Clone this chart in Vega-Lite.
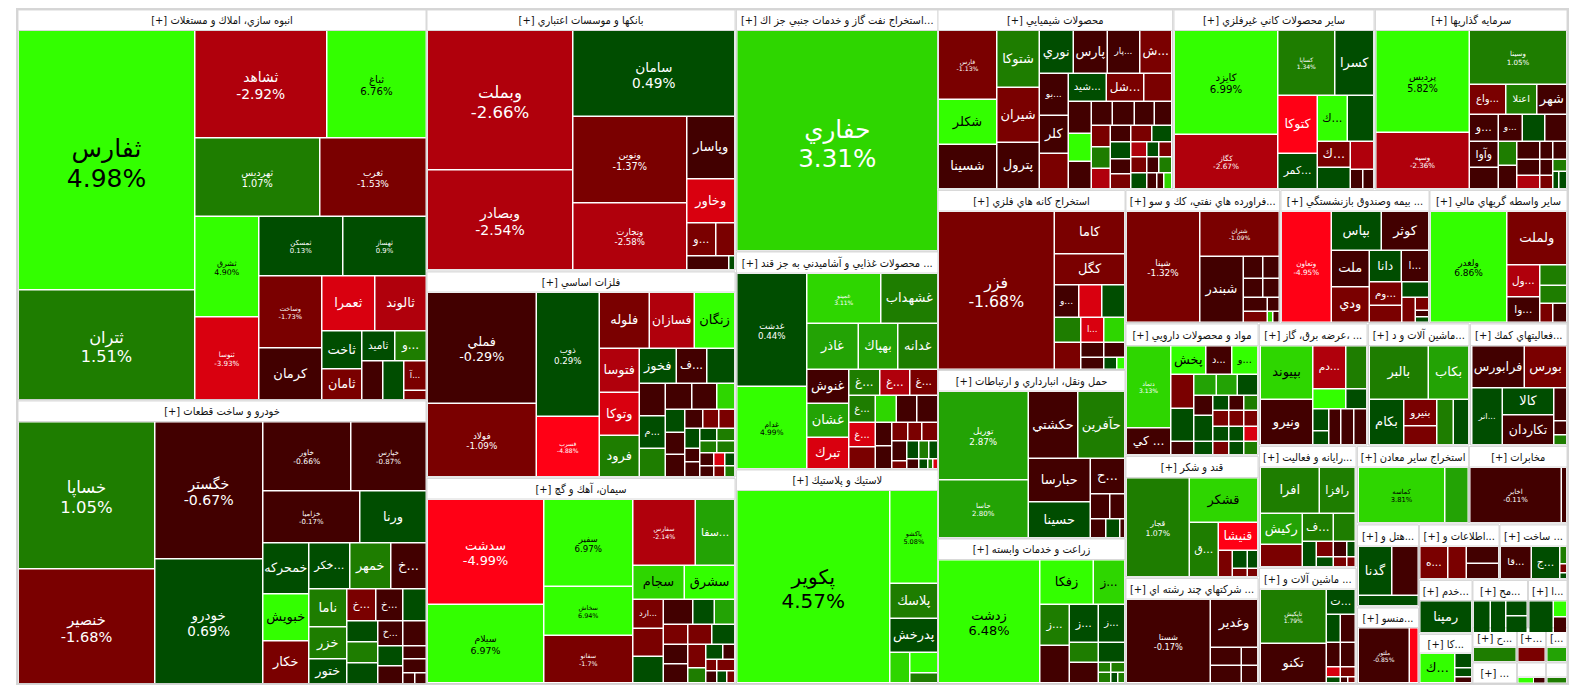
{
"$schema": "https://vega.github.io/schema/vega-lite/v6.json",
"width": 1584, "height": 698, "padding": 0, "autosize": {"type": "none"},
"background": "#ffffff",
"config": {"view": {"stroke": null}},
"datasets": {
"frame": [{"x0": 17, "x1": 1568, "y0": 9, "y1": 684}],
"groups": [
{"t":"[+] انبوه سازي، املاك و مستغلات","x0":18,"x1":426,"y0":10,"y1":30.5,"yb":399.5},
{"t":"[+] خودرو و ساخت قطعات","x0":18,"x1":426,"y0":401,"y1":421.5,"yb":683.5},
{"t":"[+] بانكها و موسسات اعتباري","x0":427,"x1":735,"y0":10,"y1":30.5,"yb":270},
{"t":"[+] فلزات اساسي","x0":427,"x1":735,"y0":272,"y1":292,"yb":477},
{"t":"[+] سيمان، آهك و گچ","x0":427,"x1":735,"y0":478.5,"y1":499,"yb":683.5},
{"t":"[+] استخراج نفت گاز و خدمات جنبي جز اكت...","x0":736.5,"x1":938,"y0":10,"y1":30.5,"yb":251},
{"t":"[+] محصولات غذايي و آشاميدني به جز قند ...","x0":736.5,"x1":938,"y0":252,"y1":273,"yb":469},
{"t":"[+] لاستيك و پلاستيك","x0":736.5,"x1":938,"y0":470,"y1":490.5,"yb":683.5},
{"t":"[+] محصولات شيميايي","x0":938,"x1":1172.5,"y0":10,"y1":30.5,"yb":189},
{"t":"[+] ساير محصولات كاني غيرفلزي","x0":1174,"x1":1374,"y0":10,"y1":30.5,"yb":189},
{"t":"[+] سرمايه گذاريها","x0":1375.5,"x1":1567,"y0":10,"y1":30.5,"yb":189},
{"t":"[+] استخراج كانه هاي فلزي","x0":938,"x1":1125,"y0":190.5,"y1":211,"yb":369.5},
{"t":"[+] فراورده هاي نفتي، كك و سو...","x0":1126,"x1":1279.5,"y0":190.5,"y1":211,"yb":322.5},
{"t":"[+] بيمه وصندوق بازنشستگي ...","x0":1281,"x1":1429,"y0":190.5,"y1":211,"yb":322.5},
{"t":"[+] ساير واسطه گريهاي مالي","x0":1430,"x1":1567,"y0":190.5,"y1":211,"yb":322.5},
{"t":"[+] حمل ونقل، انبارداري و ارتباطات","x0":938,"x1":1125,"y0":370.5,"y1":391,"yb":538},
{"t":"[+] زراعت و خدمات وابسته","x0":938,"x1":1125,"y0":539,"y1":559.5,"yb":683.5},
{"t":"[+] مواد و محصولات دارويي","x0":1126,"x1":1258,"y0":324,"y1":345.5,"yb":455},
{"t":"[+] قند و شكر","x0":1126,"x1":1258,"y0":456.5,"y1":477.5,"yb":577},
{"t":"[+] شركتهاي چند رشته اي ...","x0":1126,"x1":1258,"y0":578.5,"y1":599,"yb":683.5},
{"t":"[+] عرضه برق، گاز، ...","x0":1259.5,"x1":1367,"y0":324,"y1":345.5,"yb":445},
{"t":"[+] رايانه و فعاليت...","x0":1259.5,"x1":1356,"y0":446.5,"y1":467,"yb":567},
{"t":"[+] ماشين آلات و ...","x0":1259.5,"x1":1356,"y0":568.5,"y1":589,"yb":683.5},
{"t":"[+] ماشين آلات و د...","x0":1368.5,"x1":1469,"y0":324,"y1":345.5,"yb":445},
{"t":"[+] فعاليتهاي كمك...","x0":1470.5,"x1":1567,"y0":324,"y1":345.5,"yb":445},
{"t":"[+] استخراج ساير معادن","x0":1357.5,"x1":1468.5,"y0":446.5,"y1":467,"yb":523},
{"t":"[+] مخابرات","x0":1469.5,"x1":1567,"y0":446.5,"y1":467,"yb":523},
{"t":"[+] هتل و...","x0":1357.5,"x1":1418.5,"y0":525,"y1":546,"yb":606},
{"t":"[+] اطلاعات و...","x0":1419.5,"x1":1499,"y0":525,"y1":546,"yb":579},
{"t":"[+] ساخت ...","x0":1500,"x1":1567,"y0":525,"y1":546,"yb":579},
{"t":"[+] منسو...","x0":1357.5,"x1":1418.5,"y0":608,"y1":627.5,"yb":683.5},
{"t":"[+] خدم...","x0":1419.5,"x1":1472,"y0":580.5,"y1":600.5,"yb":633},
{"t":"[+] مح...","x0":1473,"x1":1527.5,"y0":580.5,"y1":600.5,"yb":633},
{"t":"[+] ا...","x0":1528.5,"x1":1567,"y0":580.5,"y1":600.5,"yb":633},
{"t":"[+] كا...","x0":1419.5,"x1":1472,"y0":634.5,"y1":653,"yb":683.5},
{"t":"[+] ح...","x0":1473,"x1":1516.5,"y0":628,"y1":647,"yb":662},
{"t":"[+]...","x0":1517.5,"x1":1545.5,"y0":628,"y1":647,"yb":662},
{"t":"[...","x0":1546.5,"x1":1567,"y0":628,"y1":647,"yb":662},
{"t":"[+] ...","x0":1473,"x1":1516.5,"y0":663,"y1":683,"yb":683.5},
{"t":"","x0":1517.5,"x1":1545.5,"y0":663,"y1":677,"yb":683.5},
{"t":"","x0":1546.5,"x1":1567,"y0":663,"y1":677,"yb":683.5}
],
"tiles": [
{"n":"ثفارس","p":"4.98%","c":4.98,"x0":19,"x1":194,"y0":31,"y1":289},
{"n":"ثتران","p":"1.51%","c":1.51,"x0":19,"x1":194,"y0":290.5,"y1":399},
{"n":"ثشاهد","p":"-2.92%","c":-2.92,"x0":195.5,"x1":326,"y0":31,"y1":137},
{"n":"ثباغ","p":"6.76%","c":6.76,"x0":327.5,"x1":425.5,"y0":31,"y1":137},
{"n":"ثهرديس","p":"1.07%","c":1.07,"x0":195.5,"x1":319,"y0":138.5,"y1":215.5},
{"n":"ثغرب","p":"-1.53%","c":-1.53,"x0":320.5,"x1":425.5,"y0":138.5,"y1":215.5},
{"n":"ثشرق","p":"4.90%","c":4.90,"x0":195.5,"x1":258,"y0":217,"y1":316},
{"n":"ثمسكن","p":"0.13%","c":0.13,"x0":259.5,"x1":342,"y0":217,"y1":275},
{"n":"ثهساز","p":"0.9%","c":0.9,"x0":343.5,"x1":425.5,"y0":217,"y1":275},
{"n":"ثنوسا","p":"-3.93%","c":-3.93,"x0":195.5,"x1":258,"y0":317.5,"y1":399},
{"n":"وساخت","p":"-1.73%","c":-1.73,"x0":259.5,"x1":321,"y0":276.5,"y1":347},
{"n":"كرمان","c":-0.6,"x0":259.5,"x1":321,"y0":348.5,"y1":399},
{"n":"ثعمرا","c":-3.4,"x0":322.5,"x1":374,"y0":276.5,"y1":330},
{"n":"ثالوند","c":-2.4,"x0":375.5,"x1":425.5,"y0":276.5,"y1":330},
{"n":"ثاخت","c":0.6,"x0":322.5,"x1":361,"y0":331.5,"y1":368},
{"n":"ثاميد","c":0.5,"x0":362.5,"x1":394,"y0":331.5,"y1":360},
{"n":"و...","c":1.3,"x0":395.5,"x1":425.5,"y0":331.5,"y1":360},
{"n":"ثامان","c":-1.2,"x0":322.5,"x1":361,"y0":369.5,"y1":399},
{"c":-0.7,"x0":362.5,"x1":382,"y0":361.5,"y1":399},
{"c":0.4,"x0":383.5,"x1":403,"y0":361.5,"y1":399},
{"n":"آ...","c":-1.4,"x0":404.5,"x1":425.5,"y0":361.5,"y1":389.5},
{"c":-1.2,"x0":404.5,"x1":425.5,"y0":391,"y1":399},
{"n":"خساپا","p":"1.05%","c":1.05,"x0":19,"x1":154,"y0":422.5,"y1":568},
{"n":"خنصير","p":"-1.68%","c":-1.68,"x0":19,"x1":154,"y0":569.5,"y1":683},
{"n":"خگستر","p":"-0.67%","c":-0.67,"x0":155.5,"x1":262,"y0":422.5,"y1":558},
{"n":"خودرو","p":"0.69%","c":0.69,"x0":155.5,"x1":262,"y0":559.5,"y1":683},
{"n":"خاور","p":"-0.66%","c":-0.66,"x0":263.5,"x1":350,"y0":422.5,"y1":490},
{"n":"خپارس","p":"-0.87%","c":-0.87,"x0":351.5,"x1":425.5,"y0":422.5,"y1":490},
{"n":"خزاميا","p":"-0.17%","c":-0.17,"x0":263.5,"x1":359,"y0":491.5,"y1":542},
{"n":"ورنا","c":0.6,"x0":360.5,"x1":425.5,"y0":491.5,"y1":542},
{"n":"خمحركه","c":0.5,"x0":263.5,"x1":308,"y0":543.5,"y1":593},
{"n":"خكر...","c":0.4,"x0":309.5,"x1":349,"y0":543.5,"y1":588},
{"n":"خمهر","c":1.4,"x0":350.5,"x1":390,"y0":543.5,"y1":588},
{"n":"خ...","c":-0.5,"x0":391.5,"x1":425.5,"y0":543.5,"y1":588},
{"n":"خبويش","c":5.5,"x0":263.5,"x1":308,"y0":594.5,"y1":640},
{"n":"خكار","c":-1.3,"x0":263.5,"x1":308,"y0":641.5,"y1":683},
{"n":"ناما","c":1.2,"x0":309.5,"x1":346,"y0":589.5,"y1":626},
{"n":"خزر","c":1.6,"x0":309.5,"x1":346,"y0":627.5,"y1":658},
{"n":"ختور","c":0.7,"x0":309.5,"x1":346,"y0":659.5,"y1":683},
{"n":"خ...","c":-1.5,"x0":347.5,"x1":375,"y0":589.5,"y1":620},
{"n":"خ...","c":-0.8,"x0":376.5,"x1":402,"y0":589.5,"y1":620},
{"c":0.3,"x0":403.5,"x1":425.5,"y0":589.5,"y1":620},
{"c":0.6,"x0":347.5,"x1":377,"y0":621.5,"y1":641},
{"c":1.2,"x0":347.5,"x1":377,"y0":642.5,"y1":662},
{"c":0.4,"x0":347.5,"x1":377,"y0":663.5,"y1":683},
{"n":"خ...","c":-0.9,"x0":378.5,"x1":402,"y0":621.5,"y1":645},
{"c":-0.6,"x0":403.5,"x1":425.5,"y0":621.5,"y1":645},
{"c":0.5,"x0":378.5,"x1":402,"y0":646.5,"y1":665},
{"c":-0.4,"x0":378.5,"x1":402,"y0":666.5,"y1":683},
{"c":-0.7,"x0":403.5,"x1":425.5,"y0":646.5,"y1":658},
{"c":-0.5,"x0":403.5,"x1":425.5,"y0":659.5,"y1":672},
{"c":-0.6,"x0":403.5,"x1":414,"y0":673.5,"y1":683},
{"c":-0.3,"x0":415.5,"x1":425.5,"y0":673.5,"y1":683},
{"n":"وبملت","p":"-2.66%","c":-2.66,"x0":428,"x1":572,"y0":31,"y1":169},
{"n":"وبصادر","p":"-2.54%","c":-2.54,"x0":428,"x1":572,"y0":170.5,"y1":269},
{"n":"سامان","p":"0.49%","c":0.49,"x0":573.5,"x1":734,"y0":31,"y1":115.5},
{"n":"ونوين","p":"-1.37%","c":-1.37,"x0":573.5,"x1":686,"y0":117,"y1":202},
{"n":"وتجارت","p":"-2.58%","c":-2.58,"x0":573.5,"x1":686,"y0":203.5,"y1":269},
{"n":"وپاسار","c":-0.8,"x0":687.5,"x1":734,"y0":117,"y1":178},
{"n":"وخاور","c":-3.2,"x0":687.5,"x1":734,"y0":179.5,"y1":222},
{"n":"و...","c":-1.6,"x0":687.5,"x1":715,"y0":223.5,"y1":255},
{"c":-1.3,"x0":716.5,"x1":734,"y0":223.5,"y1":255},
{"c":-0.7,"x0":687.5,"x1":728,"y0":256.5,"y1":269},
{"c":0.4,"x0":729.5,"x1":734,"y0":256.5,"y1":269},
{"n":"حفاري","p":"3.31%","c":3.31,"x0":737.5,"x1":937,"y0":31,"y1":250},
{"n":"غدشت","p":"0.44%","c":0.44,"x0":737.5,"x1":806,"y0":274,"y1":385.5},
{"n":"غدام","p":"4.99%","c":4.99,"x0":737.5,"x1":806,"y0":387,"y1":468},
{"n":"غمينو","p":"3.11%","c":3.11,"x0":807.5,"x1":880,"y0":274,"y1":322.5},
{"n":"غشهداب","c":1.6,"x0":881.5,"x1":937,"y0":274,"y1":322.5},
{"n":"غاذر","c":2.4,"x0":807.5,"x1":857.5,"y0":324,"y1":368.5},
{"n":"بهپاك","c":2.6,"x0":859,"x1":897,"y0":324,"y1":368.5},
{"n":"غدانه","c":1.5,"x0":898.5,"x1":937,"y0":324,"y1":368.5},
{"n":"غنوش","c":-0.6,"x0":807.5,"x1":848,"y0":370,"y1":402.5},
{"n":"غشان","c":2.3,"x0":807.5,"x1":848,"y0":404,"y1":436.5},
{"n":"تبرك","c":-3.3,"x0":807.5,"x1":848,"y0":438,"y1":468},
{"n":"غ...","c":1.4,"x0":849.5,"x1":879,"y0":370,"y1":394.5},
{"n":"غ...","c":-2.3,"x0":880.5,"x1":909,"y0":370,"y1":394.5},
{"n":"غ...","c":-1.4,"x0":910.5,"x1":937,"y0":370,"y1":394.5},
{"n":"غ...","c":1.5,"x0":849.5,"x1":874.5,"y0":396,"y1":421.5},
{"c":3.4,"x0":876,"x1":895.5,"y0":396,"y1":421.5},
{"c":-0.7,"x0":897,"x1":916,"y0":396,"y1":421.5},
{"c":-0.5,"x0":917.5,"x1":937,"y0":396,"y1":421.5},
{"n":"غ...","c":-3.6,"x0":849.5,"x1":874.5,"y0":423,"y1":446},
{"c":-1.2,"x0":849.5,"x1":874.5,"y0":447.5,"y1":468},
{"c":-0.6,"x0":876,"x1":891,"y0":423,"y1":445},
{"c":-0.4,"x0":876,"x1":891,"y0":446.5,"y1":468},
{"c":-1.5,"x0":892.5,"x1":907,"y0":423,"y1":440},
{"c":-1.1,"x0":908.5,"x1":921,"y0":423,"y1":440},
{"c":-1.7,"x0":922.5,"x1":937,"y0":423,"y1":440},
{"c":-0.6,"x0":892.5,"x1":906,"y0":441.5,"y1":460},
{"c":0.4,"x0":907.5,"x1":918,"y0":441.5,"y1":458},
{"c":1.2,"x0":919.5,"x1":928,"y0":441.5,"y1":458},
{"c":0.6,"x0":929.5,"x1":937,"y0":441.5,"y1":458},
{"c":-1.3,"x0":892.5,"x1":906,"y0":461.5,"y1":468},
{"c":-0.5,"x0":907.5,"x1":918,"y0":459.5,"y1":468},
{"c":0.3,"x0":919.5,"x1":927,"y0":459.5,"y1":468},
{"c":1.1,"x0":928.5,"x1":932,"y0":459.5,"y1":468},
{"c":-3.2,"x0":933.5,"x1":937,"y0":459.5,"y1":468},
{"n":"پكوير","p":"4.57%","c":4.57,"x0":737.5,"x1":889,"y0":491,"y1":682},
{"n":"پاكشو","p":"5.08%","c":5.08,"x0":890.5,"x1":937,"y0":491,"y1":582.5},
{"n":"پلاسك","c":1.5,"x0":890.5,"x1":937,"y0":584,"y1":617.5},
{"n":"پدرخش","c":0.6,"x0":890.5,"x1":937,"y0":619,"y1":651.5},
{"c":3.2,"x0":890.5,"x1":909,"y0":653,"y1":682},
{"c":4.5,"x0":910.5,"x1":937,"y0":653,"y1":672},
{"c":1.3,"x0":910.5,"x1":937,"y0":673.5,"y1":682},
{"n":"فملي","p":"-0.29%","c":-0.29,"x0":428,"x1":535.5,"y0":293,"y1":402.5},
{"n":"فولاد","p":"-1.09%","c":-1.09,"x0":428,"x1":535.5,"y0":404,"y1":476},
{"n":"ذوب","p":"0.29%","c":0.29,"x0":537,"x1":598.5,"y0":293,"y1":415.5},
{"n":"فسرب","p":"-4.88%","c":-4.88,"x0":537,"x1":598.5,"y0":417,"y1":476},
{"n":"فلوله","c":-1.5,"x0":600,"x1":648.5,"y0":293,"y1":347.5},
{"n":"فسازان","c":-2.4,"x0":650,"x1":693.5,"y0":293,"y1":347.5},
{"n":"زنگان","c":5.2,"x0":695,"x1":734,"y0":293,"y1":347.5},
{"n":"فتوسا","c":-2.6,"x0":600,"x1":638.5,"y0":349,"y1":391.5},
{"n":"وتوكا","c":-3.4,"x0":600,"x1":638.5,"y0":393,"y1":434.5},
{"n":"فرود","c":1.5,"x0":600,"x1":638.5,"y0":436,"y1":476},
{"n":"فخوز","c":0.6,"x0":640,"x1":675.5,"y0":349,"y1":382.5},
{"n":"ف...","c":-0.6,"x0":677,"x1":706,"y0":349,"y1":382.5},
{"c":0.5,"x0":707.5,"x1":734,"y0":349,"y1":382.5},
{"c":-0.5,"x0":640,"x1":664.5,"y0":384,"y1":415},
{"c":-0.6,"x0":666,"x1":691,"y0":384,"y1":408.5},
{"c":-0.7,"x0":692.5,"x1":716,"y0":384,"y1":408.5},
{"c":3.3,"x0":717.5,"x1":734,"y0":384,"y1":408.5},
{"n":"م...","c":0.4,"x0":640,"x1":664.5,"y0":416.5,"y1":447.5},
{"c":1.3,"x0":640,"x1":664.5,"y0":449,"y1":476},
{"c":0.5,"x0":666,"x1":684,"y0":410,"y1":431.5},
{"c":-0.5,"x0":666,"x1":684,"y0":433,"y1":453.5},
{"c":-0.4,"x0":666,"x1":684,"y0":455,"y1":476},
{"c":-0.8,"x0":685.5,"x1":702,"y0":410,"y1":427.5},
{"c":-1.3,"x0":703.5,"x1":718,"y0":410,"y1":427.5},
{"c":-1.2,"x0":719.5,"x1":734,"y0":410,"y1":427.5},
{"c":0.5,"x0":685.5,"x1":699,"y0":429,"y1":447.5},
{"c":0.4,"x0":700.5,"x1":716,"y0":429,"y1":440},
{"c":1.2,"x0":717.5,"x1":734,"y0":429,"y1":440},
{"c":1.3,"x0":700.5,"x1":716,"y0":441.5,"y1":452},
{"c":1.1,"x0":717.5,"x1":734,"y0":441.5,"y1":452},
{"c":-0.5,"x0":685.5,"x1":699,"y0":449,"y1":461},
{"c":-0.6,"x0":685.5,"x1":699,"y0":462.5,"y1":476},
{"c":-0.4,"x0":700.5,"x1":713,"y0":453.5,"y1":465},
{"c":-3.5,"x0":714.5,"x1":724,"y0":453.5,"y1":465},
{"c":0.3,"x0":725.5,"x1":734,"y0":453.5,"y1":465},
{"c":-0.7,"x0":700.5,"x1":713,"y0":466.5,"y1":476},
{"c":-1.2,"x0":714.5,"x1":724,"y0":466.5,"y1":476},
{"c":1.1,"x0":725.5,"x1":734,"y0":466.5,"y1":476},
{"n":"سدشت","p":"-4.99%","c":-4.99,"x0":428,"x1":543,"y0":500,"y1":603.5},
{"n":"سيلام","p":"6.97%","c":6.97,"x0":428,"x1":543,"y0":605,"y1":682},
{"n":"سفير","p":"6.97%","c":6.97,"x0":544.5,"x1":632,"y0":500,"y1":585.5},
{"n":"سخاش","p":"6.94%","c":6.94,"x0":544.5,"x1":632,"y0":587,"y1":634.5},
{"n":"سفانو","p":"-1.7%","c":-1.7,"x0":544.5,"x1":632,"y0":636,"y1":682},
{"n":"سفارس","p":"-2.14%","c":-2.14,"x0":633.5,"x1":694.5,"y0":500,"y1":564.5},
{"n":"سفا...","c":2.3,"x0":696,"x1":734,"y0":500,"y1":564.5},
{"n":"سجام","c":3.7,"x0":633.5,"x1":683.5,"y0":566,"y1":598.5},
{"n":"سشرق","c":5.4,"x0":685,"x1":734,"y0":566,"y1":598.5},
{"n":"ارد...","c":-1.4,"x0":633.5,"x1":662.5,"y0":600,"y1":627.5},
{"c":-0.7,"x0":664,"x1":692,"y0":600,"y1":623.5},
{"c":0.5,"x0":693.5,"x1":713.5,"y0":600,"y1":623.5},
{"c":2.2,"x0":715,"x1":734,"y0":600,"y1":623.5},
{"c":-1.3,"x0":633.5,"x1":662.5,"y0":629,"y1":655.5},
{"c":0.4,"x0":633.5,"x1":662.5,"y0":657,"y1":682},
{"c":-1.2,"x0":664,"x1":687,"y0":625,"y1":643.5},
{"c":-1.5,"x0":688.5,"x1":711,"y0":625,"y1":643.5},
{"c":0.6,"x0":712.5,"x1":734,"y0":625,"y1":643.5},
{"c":-0.6,"x0":664,"x1":687,"y0":645,"y1":663},
{"c":-0.5,"x0":664,"x1":687,"y0":664.5,"y1":682},
{"c":-1.1,"x0":688.5,"x1":705,"y0":645,"y1":667},
{"c":0.5,"x0":706.5,"x1":722,"y0":645,"y1":658.5},
{"c":-0.6,"x0":723.5,"x1":734,"y0":645,"y1":658.5},
{"c":1.3,"x0":688.5,"x1":705,"y0":668.5,"y1":682},
{"c":-1.3,"x0":706.5,"x1":716,"y0":660,"y1":670},
{"c":-1.2,"x0":717.5,"x1":734,"y0":660,"y1":670},
{"c":-0.5,"x0":706.5,"x1":716,"y0":671.5,"y1":682},
{"c":0.3,"x0":717.5,"x1":726,"y0":671.5,"y1":682},
{"c":-1.1,"x0":727.5,"x1":734,"y0":671.5,"y1":682},
{"n":"فارس","p":"-1.13%","c":-1.13,"x0":939,"x1":996,"y0":31,"y1":98.5},
{"n":"شكلر","c":5.3,"x0":939,"x1":996,"y0":100,"y1":143.5},
{"n":"شسينا","c":-0.6,"x0":939,"x1":996,"y0":145,"y1":188},
{"n":"شتوكا","c":1.4,"x0":997.5,"x1":1038.5,"y0":31,"y1":86.5},
{"n":"شيران","c":-1.3,"x0":997.5,"x1":1038.5,"y0":88,"y1":141.5},
{"n":"پترول","c":-0.7,"x0":997.5,"x1":1038.5,"y0":143,"y1":188},
{"n":"نوري","c":0.6,"x0":1040,"x1":1072.5,"y0":31,"y1":72.5},
{"n":"پارس","c":-0.5,"x0":1074,"x1":1106.5,"y0":31,"y1":72.5},
{"n":"پار...","c":-0.6,"x0":1108,"x1":1139,"y0":31,"y1":72.5},
{"n":"ش...","c":-1.2,"x0":1140.5,"x1":1171,"y0":31,"y1":72.5},
{"n":"بو...","c":-0.7,"x0":1040,"x1":1067.5,"y0":74,"y1":114.5},
{"n":"كلر","c":-0.5,"x0":1040,"x1":1067.5,"y0":116,"y1":152.5},
{"c":-1.3,"x0":1040,"x1":1067.5,"y0":154,"y1":188},
{"n":"شيد...","c":0.5,"x0":1069,"x1":1105.5,"y0":74,"y1":100.5},
{"n":"شل...","c":-1.4,"x0":1107,"x1":1143,"y0":74,"y1":100.5},
{"c":-1.2,"x0":1144.5,"x1":1171,"y0":74,"y1":100.5},
{"c":-0.6,"x0":1069,"x1":1090.5,"y0":102,"y1":132.5},
{"c":-0.5,"x0":1092,"x1":1111.5,"y0":102,"y1":124.5},
{"c":-0.7,"x0":1113,"x1":1133.5,"y0":102,"y1":124.5},
{"c":-0.4,"x0":1135,"x1":1153.5,"y0":102,"y1":124.5},
{"c":-0.6,"x0":1155,"x1":1171,"y0":102,"y1":124.5},
{"c":5.1,"x0":1069,"x1":1090.5,"y0":134,"y1":160.5},
{"c":-0.5,"x0":1069,"x1":1090.5,"y0":162,"y1":188},
{"c":-1.3,"x0":1092,"x1":1109.5,"y0":126,"y1":146},
{"c":-0.4,"x0":1111,"x1":1130,"y0":126,"y1":141},
{"c":-1.4,"x0":1131.5,"x1":1151,"y0":126,"y1":141},
{"c":0.5,"x0":1152.5,"x1":1171,"y0":126,"y1":141},
{"c":1.4,"x0":1092,"x1":1109.5,"y0":147.5,"y1":167.5},
{"c":-2.2,"x0":1092,"x1":1109.5,"y0":169,"y1":188},
{"c":0.4,"x0":1111,"x1":1130,"y0":142.5,"y1":158},
{"c":-0.6,"x0":1111,"x1":1130,"y0":159.5,"y1":173},
{"c":-1.1,"x0":1111,"x1":1130,"y0":174.5,"y1":188},
{"c":-2.3,"x0":1131.5,"x1":1146,"y0":142.5,"y1":156},
{"c":0.3,"x0":1147.5,"x1":1158,"y0":142.5,"y1":156},
{"c":-1.2,"x0":1159.5,"x1":1171,"y0":142.5,"y1":156},
{"c":-1.3,"x0":1131.5,"x1":1146,"y0":157.5,"y1":172},
{"c":-0.4,"x0":1147.5,"x1":1158,"y0":157.5,"y1":172},
{"c":1.2,"x0":1159.5,"x1":1171,"y0":157.5,"y1":172},
{"c":0.4,"x0":1131.5,"x1":1146,"y0":173.5,"y1":188},
{"c":-0.5,"x0":1147.5,"x1":1156,"y0":173.5,"y1":188},
{"c":-0.6,"x0":1157.5,"x1":1163,"y0":173.5,"y1":188},
{"c":3.2,"x0":1164.5,"x1":1171,"y0":173.5,"y1":188},
{"n":"كايزد","p":"6.99%","c":6.99,"x0":1175,"x1":1277,"y0":31,"y1":133.5},
{"n":"كگاز","p":"-2.67%","c":-2.67,"x0":1175,"x1":1277,"y0":135,"y1":188},
{"n":"كساپا","p":"1.34%","c":1.34,"x0":1278.5,"x1":1334,"y0":31,"y1":94.5},
{"n":"كسرا","c":0.6,"x0":1335.5,"x1":1373,"y0":31,"y1":94.5},
{"n":"كتوكا","c":-4.6,"x0":1278.5,"x1":1316.5,"y0":96,"y1":152.5},
{"n":"ك...","c":5.6,"x0":1318,"x1":1346.5,"y0":96,"y1":140.5},
{"c":0.5,"x0":1348,"x1":1373,"y0":96,"y1":140.5},
{"n":"ك...","c":-1.3,"x0":1318,"x1":1349.5,"y0":142,"y1":166.5},
{"c":-2.2,"x0":1351,"x1":1373,"y0":142,"y1":168.5},
{"n":"كمر...","c":0.5,"x0":1278.5,"x1":1316.5,"y0":154,"y1":188},
{"c":0.4,"x0":1318,"x1":1349.5,"y0":168,"y1":188},
{"c":-0.6,"x0":1351,"x1":1362,"y0":170,"y1":188},
{"c":-0.5,"x0":1363.5,"x1":1373,"y0":170,"y1":188},
{"n":"پرديس","p":"5.82%","c":5.82,"x0":1376.5,"x1":1468.5,"y0":31,"y1":131.5},
{"n":"وسپه","p":"-2.36%","c":-2.36,"x0":1376.5,"x1":1468.5,"y0":133,"y1":188},
{"n":"وسينا","p":"1.05%","c":1.05,"x0":1470,"x1":1566,"y0":31,"y1":83.5},
{"n":"واع...","c":-1.3,"x0":1470,"x1":1505,"y0":85,"y1":113.5},
{"n":"اعتلا","c":1.3,"x0":1506.5,"x1":1536,"y0":85,"y1":113.5},
{"n":"شهر","c":-0.6,"x0":1537.5,"x1":1566,"y0":85,"y1":113.5},
{"n":"و...","c":-0.5,"x0":1470,"x1":1497.5,"y0":115,"y1":140.5},
{"n":"و...","c":-0.7,"x0":1499,"x1":1521.5,"y0":115,"y1":140.5},
{"c":0.4,"x0":1523,"x1":1544,"y0":115,"y1":140.5},
{"c":-0.6,"x0":1545.5,"x1":1566,"y0":115,"y1":140.5},
{"n":"وآوا","c":-0.5,"x0":1470,"x1":1497.5,"y0":142,"y1":166.5},
{"c":-0.6,"x0":1470,"x1":1497.5,"y0":168,"y1":188},
{"c":1.3,"x0":1499,"x1":1516,"y0":142,"y1":164.5},
{"c":-0.4,"x0":1499,"x1":1516,"y0":166,"y1":188},
{"c":-0.7,"x0":1517.5,"x1":1539,"y0":142,"y1":158.5},
{"c":-0.5,"x0":1540.5,"x1":1552,"y0":142,"y1":158.5},
{"c":-0.6,"x0":1553.5,"x1":1566,"y0":142,"y1":158.5},
{"c":-0.7,"x0":1517.5,"x1":1539,"y0":160,"y1":174.5},
{"c":-0.4,"x0":1540.5,"x1":1552,"y0":160,"y1":174.5},
{"c":1.2,"x0":1553.5,"x1":1566,"y0":160,"y1":170.5},
{"c":-2.3,"x0":1517.5,"x1":1539,"y0":176,"y1":188},
{"c":-1.2,"x0":1540.5,"x1":1552,"y0":176,"y1":188},
{"c":0.4,"x0":1553.5,"x1":1558,"y0":172,"y1":188},
{"c":0.5,"x0":1559.5,"x1":1566,"y0":172,"y1":188},
{"n":"فزر","p":"-1.68%","c":-1.68,"x0":939,"x1":1053.5,"y0":212,"y1":368.5},
{"n":"كاما","c":-1.4,"x0":1055,"x1":1124,"y0":212,"y1":253},
{"n":"كگل","c":-1.3,"x0":1055,"x1":1124,"y0":254.5,"y1":284},
{"n":"و...","c":-0.6,"x0":1055,"x1":1078,"y0":285.5,"y1":316.5},
{"c":-3.4,"x0":1079.5,"x1":1101,"y0":285.5,"y1":316.5},
{"c":0.5,"x0":1102.5,"x1":1124,"y0":285.5,"y1":316.5},
{"c":1.3,"x0":1055,"x1":1080,"y0":318,"y1":341.5},
{"n":"ا...","c":-3.3,"x0":1081.5,"x1":1103,"y0":318,"y1":341.5},
{"c":3.4,"x0":1104.5,"x1":1124,"y0":318,"y1":341.5},
{"c":-1.2,"x0":1055,"x1":1080,"y0":343,"y1":368.5},
{"c":-0.6,"x0":1081.5,"x1":1103,"y0":343,"y1":356.5},
{"c":-0.5,"x0":1104.5,"x1":1124,"y0":343,"y1":356.5},
{"c":-0.6,"x0":1081.5,"x1":1103,"y0":358,"y1":368.5},
{"c":0.4,"x0":1104.5,"x1":1116,"y0":358,"y1":368.5},
{"c":5.0,"x0":1117.5,"x1":1124,"y0":358,"y1":368.5},
{"n":"شپنا","p":"-1.32%","c":-1.32,"x0":1127,"x1":1199,"y0":212,"y1":321.5},
{"n":"شتران","p":"-1.09%","c":-1.09,"x0":1200.5,"x1":1278.5,"y0":212,"y1":255.5},
{"n":"شبندر","c":-0.7,"x0":1200.5,"x1":1242.5,"y0":257,"y1":321.5},
{"c":-0.5,"x0":1244,"x1":1262,"y0":257,"y1":277.5},
{"c":-0.6,"x0":1263.5,"x1":1278.5,"y0":257,"y1":277.5},
{"c":-0.4,"x0":1244,"x1":1262,"y0":279,"y1":296.5},
{"c":-0.5,"x0":1263.5,"x1":1278.5,"y0":279,"y1":296.5},
{"c":-0.6,"x0":1244,"x1":1266.5,"y0":298,"y1":310.5},
{"c":-0.5,"x0":1268,"x1":1278.5,"y0":298,"y1":310.5},
{"c":-1.2,"x0":1244,"x1":1266.5,"y0":312,"y1":321.5},
{"c":3.2,"x0":1268,"x1":1272,"y0":312,"y1":321.5},
{"c":-0.4,"x0":1273.5,"x1":1278.5,"y0":312,"y1":321.5},
{"n":"وتعاون","p":"-4.95%","c":-4.95,"x0":1282,"x1":1330.5,"y0":212,"y1":321.5},
{"n":"بپاس","c":0.6,"x0":1332,"x1":1380.5,"y0":212,"y1":249.5},
{"n":"كوثر","c":-0.7,"x0":1382,"x1":1428,"y0":212,"y1":249.5},
{"n":"ملت","c":-0.6,"x0":1332,"x1":1368.5,"y0":251,"y1":286},
{"n":"ودي","c":-1.3,"x0":1332,"x1":1368.5,"y0":287.5,"y1":321.5},
{"n":"دانا","c":0.5,"x0":1370,"x1":1400.5,"y0":251,"y1":281},
{"n":"ا...","c":-0.6,"x0":1402,"x1":1428,"y0":251,"y1":281},
{"n":"وم...","c":-1.2,"x0":1370,"x1":1401,"y0":282.5,"y1":304.5},
{"c":-1.4,"x0":1370,"x1":1401,"y0":306,"y1":321.5},
{"c":0.4,"x0":1402.5,"x1":1428,"y0":282.5,"y1":296.5},
{"c":-1.3,"x0":1402.5,"x1":1414.5,"y0":298,"y1":321.5},
{"c":-1.2,"x0":1416,"x1":1428,"y0":298,"y1":309.5},
{"c":-0.5,"x0":1416,"x1":1428,"y0":311,"y1":316},
{"c":0.3,"x0":1416,"x1":1428,"y0":317.5,"y1":321.5},
{"n":"ولغدر","p":"6.86%","c":6.86,"x0":1431,"x1":1506,"y0":212,"y1":321.5},
{"n":"ولملت","c":-1.4,"x0":1507.5,"x1":1566,"y0":212,"y1":264},
{"n":"ول...","c":-2.3,"x0":1507.5,"x1":1539,"y0":265.5,"y1":296},
{"c":1.3,"x0":1540.5,"x1":1566,"y0":265.5,"y1":284.5},
{"c":1.2,"x0":1540.5,"x1":1566,"y0":286,"y1":302.5},
{"n":"وا...","c":-0.6,"x0":1507.5,"x1":1539,"y0":297.5,"y1":321.5},
{"c":-1.3,"x0":1540.5,"x1":1552,"y0":304,"y1":321.5},
{"c":-0.5,"x0":1553.5,"x1":1566,"y0":304,"y1":321.5},
{"n":"توريل","p":"2.87%","c":2.87,"x0":939,"x1":1027.5,"y0":392,"y1":479},
{"n":"حاسا","p":"2.80%","c":2.80,"x0":939,"x1":1027.5,"y0":480.5,"y1":537},
{"n":"حكشتي","c":-0.7,"x0":1029,"x1":1077,"y0":392,"y1":457.5},
{"n":"حآفرين","c":1.4,"x0":1078.5,"x1":1124,"y0":392,"y1":457.5},
{"n":"حبارسا","c":-0.6,"x0":1029,"x1":1089.5,"y0":459,"y1":501},
{"n":"ح...","c":-0.5,"x0":1091,"x1":1124,"y0":459,"y1":493},
{"n":"حسينا","c":0.6,"x0":1029,"x1":1089.5,"y0":502.5,"y1":537},
{"c":-0.6,"x0":1091,"x1":1109,"y0":494.5,"y1":518},
{"c":-0.5,"x0":1110.5,"x1":1124,"y0":494.5,"y1":518},
{"c":-0.7,"x0":1091,"x1":1105,"y0":519.5,"y1":537},
{"c":0.4,"x0":1106.5,"x1":1119,"y0":519.5,"y1":537},
{"c":-0.4,"x0":1120.5,"x1":1124,"y0":519.5,"y1":537},
{"n":"زدشت","p":"6.48%","c":6.48,"x0":939,"x1":1039,"y0":560.5,"y1":682},
{"n":"زفكا","c":5.2,"x0":1040.5,"x1":1092.5,"y0":560.5,"y1":603.5},
{"n":"ز...","c":3.6,"x0":1094,"x1":1124,"y0":560.5,"y1":603.5},
{"n":"ز...","c":1.4,"x0":1040.5,"x1":1068.5,"y0":605,"y1":644.5},
{"n":"ز...","c":0.6,"x0":1070,"x1":1097.5,"y0":605,"y1":641.5},
{"n":"ز...","c":0.5,"x0":1099,"x1":1124,"y0":605,"y1":641.5},
{"c":-0.6,"x0":1040.5,"x1":1068.5,"y0":646,"y1":682},
{"c":1.3,"x0":1070,"x1":1097.5,"y0":643,"y1":661.5},
{"c":0.4,"x0":1099,"x1":1124,"y0":643,"y1":661.5},
{"c":-0.5,"x0":1070,"x1":1097.5,"y0":663,"y1":682},
{"c":1.2,"x0":1099,"x1":1110,"y0":663,"y1":671.5},
{"c":1.4,"x0":1111.5,"x1":1124,"y0":663,"y1":671.5},
{"c":1.1,"x0":1099,"x1":1110,"y0":673,"y1":682},
{"c":0.5,"x0":1111.5,"x1":1117,"y0":673,"y1":682},
{"c":1.3,"x0":1118.5,"x1":1124,"y0":673,"y1":682},
{"n":"دتماد","p":"3.13%","c":3.13,"x0":1127,"x1":1170,"y0":346.5,"y1":427},
{"n":"كي ...","c":-0.6,"x0":1127,"x1":1170,"y0":428.5,"y1":454},
{"n":"پخش","c":5.3,"x0":1171.5,"x1":1205,"y0":346.5,"y1":373.5},
{"n":"د...","c":-0.7,"x0":1206.5,"x1":1231,"y0":346.5,"y1":373.5},
{"n":"و...","c":5.1,"x0":1232.5,"x1":1257,"y0":346.5,"y1":373.5},
{"c":-1.3,"x0":1171.5,"x1":1193,"y0":375,"y1":407.5},
{"c":2.3,"x0":1194.5,"x1":1215.5,"y0":375,"y1":394.5},
{"c":2.4,"x0":1217,"x1":1236.5,"y0":375,"y1":394.5},
{"c":0.5,"x0":1238,"x1":1257,"y0":375,"y1":394.5},
{"c":-0.6,"x0":1194.5,"x1":1212,"y0":396,"y1":414.5},
{"c":0.4,"x0":1213.5,"x1":1228,"y0":396,"y1":409.5},
{"c":-0.5,"x0":1229.5,"x1":1243,"y0":396,"y1":409.5},
{"c":1.3,"x0":1244.5,"x1":1257,"y0":396,"y1":409.5},
{"c":0.5,"x0":1171.5,"x1":1193,"y0":409,"y1":440.5},
{"c":0.4,"x0":1194.5,"x1":1212,"y0":416,"y1":440.5},
{"c":-1.2,"x0":1213.5,"x1":1228,"y0":411,"y1":425.5},
{"c":-1.4,"x0":1229.5,"x1":1243,"y0":411,"y1":425.5},
{"c":-1.3,"x0":1244.5,"x1":1257,"y0":411,"y1":425.5},
{"c":0.5,"x0":1213.5,"x1":1228,"y0":427,"y1":440.5},
{"c":0.3,"x0":1229.5,"x1":1243,"y0":427,"y1":440.5},
{"c":-3.3,"x0":1244.5,"x1":1257,"y0":427,"y1":440.5},
{"c":-0.6,"x0":1171.5,"x1":1193,"y0":442,"y1":454},
{"c":0.4,"x0":1194.5,"x1":1212,"y0":442,"y1":454},
{"c":-1.2,"x0":1213.5,"x1":1228,"y0":442,"y1":454},
{"c":0.5,"x0":1229.5,"x1":1243,"y0":442,"y1":454},
{"c":1.2,"x0":1244.5,"x1":1257,"y0":442,"y1":454},
{"n":"قجار","p":"1.07%","c":1.07,"x0":1127,"x1":1188.5,"y0":478.5,"y1":576},
{"n":"قشكر","c":3.7,"x0":1190,"x1":1257,"y0":478.5,"y1":521.5},
{"n":"ق...","c":1.4,"x0":1190,"x1":1217.5,"y0":523,"y1":576},
{"n":"قنيشا","c":-4.4,"x0":1219,"x1":1257,"y0":523,"y1":549.5},
{"c":-1.3,"x0":1219,"x1":1231.5,"y0":551,"y1":576},
{"c":0.5,"x0":1233,"x1":1246.5,"y0":551,"y1":567.5},
{"c":0.4,"x0":1248,"x1":1257,"y0":551,"y1":567.5},
{"c":-1.2,"x0":1233,"x1":1246.5,"y0":569,"y1":576},
{"c":-1.1,"x0":1248,"x1":1257,"y0":569,"y1":576},
{"n":"شستا","p":"-0.17%","c":-0.17,"x0":1127,"x1":1209.5,"y0":600,"y1":682},
{"n":"وغدير","c":-0.6,"x0":1211,"x1":1257,"y0":600,"y1":646.5},
{"c":-0.5,"x0":1211,"x1":1240.5,"y0":648,"y1":664.5},
{"c":-0.4,"x0":1242,"x1":1257,"y0":648,"y1":664.5},
{"c":-0.6,"x0":1211,"x1":1240.5,"y0":666,"y1":682},
{"c":-0.5,"x0":1242,"x1":1257,"y0":666,"y1":682},
{"n":"بپيوند","c":3.7,"x0":1261,"x1":1312,"y0":346.5,"y1":398.5},
{"n":"دم...","c":-2.4,"x0":1313.5,"x1":1345,"y0":346.5,"y1":388},
{"c":1.3,"x0":1346.5,"x1":1366,"y0":346.5,"y1":388},
{"c":5.0,"x0":1313.5,"x1":1345,"y0":389.5,"y1":408},
{"c":0.4,"x0":1346.5,"x1":1366,"y0":389.5,"y1":408},
{"n":"ونيرو","c":-0.6,"x0":1261,"x1":1312,"y0":400,"y1":444},
{"c":0.5,"x0":1313.5,"x1":1328,"y0":409.5,"y1":430},
{"c":0.4,"x0":1313.5,"x1":1328,"y0":431.5,"y1":444},
{"c":-0.6,"x0":1329.5,"x1":1340,"y0":409.5,"y1":444},
{"c":-0.5,"x0":1341.5,"x1":1353,"y0":409.5,"y1":444},
{"c":-0.7,"x0":1354.5,"x1":1366,"y0":409.5,"y1":444},
{"n":"افرا","c":1.4,"x0":1261,"x1":1318.5,"y0":468,"y1":512.5},
{"n":"رافزا","c":1.3,"x0":1320,"x1":1354.5,"y0":468,"y1":512.5},
{"n":"ركيش","c":2.3,"x0":1261,"x1":1301.5,"y0":514,"y1":543.5},
{"n":"ف...","c":1.5,"x0":1303,"x1":1332.5,"y0":514,"y1":540.5},
{"c":1.2,"x0":1334,"x1":1354.5,"y0":514,"y1":540.5},
{"c":-1.3,"x0":1261,"x1":1301.5,"y0":545,"y1":566},
{"c":0.5,"x0":1303,"x1":1315.5,"y0":542,"y1":566},
{"c":-1.2,"x0":1317,"x1":1332.5,"y0":542,"y1":556},
{"c":-0.6,"x0":1334,"x1":1346,"y0":542,"y1":556},
{"c":0.4,"x0":1347.5,"x1":1354.5,"y0":542,"y1":556},
{"c":0.5,"x0":1317,"x1":1332.5,"y0":557.5,"y1":566},
{"c":-1.4,"x0":1334,"x1":1346,"y0":557.5,"y1":566},
{"c":-1.2,"x0":1347.5,"x1":1354.5,"y0":557.5,"y1":566},
{"n":"تاپكيش","p":"1.79%","c":1.79,"x0":1261,"x1":1325.5,"y0":590,"y1":642.5},
{"n":"ت...","c":0.6,"x0":1327,"x1":1354.5,"y0":590,"y1":613.5},
{"c":0.5,"x0":1327,"x1":1339.5,"y0":615,"y1":641.5},
{"c":-0.5,"x0":1341,"x1":1354.5,"y0":615,"y1":641.5},
{"n":"تكنو","c":-0.6,"x0":1261,"x1":1325.5,"y0":644,"y1":682},
{"c":-0.7,"x0":1327,"x1":1339.5,"y0":643,"y1":666},
{"c":-0.6,"x0":1341,"x1":1354.5,"y0":643,"y1":666},
{"c":-3.3,"x0":1327,"x1":1339.5,"y0":667.5,"y1":676},
{"c":-1.3,"x0":1341,"x1":1354.5,"y0":667.5,"y1":676},
{"c":0.4,"x0":1327,"x1":1339.5,"y0":677.5,"y1":682},
{"c":-0.5,"x0":1341,"x1":1347,"y0":677.5,"y1":682},
{"c":-1.2,"x0":1348.5,"x1":1354.5,"y0":677.5,"y1":682},
{"n":"بالبر","c":1.4,"x0":1370,"x1":1427.5,"y0":346.5,"y1":398.5},
{"n":"بكاب","c":2.3,"x0":1429,"x1":1468,"y0":346.5,"y1":398.5},
{"n":"بكام","c":0.6,"x0":1370,"x1":1403,"y0":400,"y1":444},
{"n":"بنيرو","c":-1.3,"x0":1404.5,"x1":1436,"y0":400,"y1":425},
{"c":-1.2,"x0":1404.5,"x1":1436,"y0":426.5,"y1":444},
{"c":1.3,"x0":1437.5,"x1":1452.5,"y0":400,"y1":444},
{"c":0.5,"x0":1454,"x1":1468,"y0":400,"y1":444},
{"n":"فرابورس","c":-0.6,"x0":1472.5,"x1":1523.5,"y0":346.5,"y1":387},
{"n":"بورس","c":-1.3,"x0":1525,"x1":1566,"y0":346.5,"y1":387},
{"n":"انر...","c":0.5,"x0":1472.5,"x1":1501.5,"y0":388.5,"y1":444},
{"n":"كالا","c":0.6,"x0":1503,"x1":1553,"y0":388.5,"y1":414},
{"n":"تكاردان","c":-0.7,"x0":1503,"x1":1553,"y0":415.5,"y1":444},
{"c":-0.6,"x0":1554.5,"x1":1566,"y0":388.5,"y1":420},
{"c":-0.5,"x0":1554.5,"x1":1566,"y0":421.5,"y1":434},
{"c":1.2,"x0":1554.5,"x1":1566,"y0":435.5,"y1":444},
{"n":"كماسه","p":"3.81%","c":3.81,"x0":1359,"x1":1444,"y0":468,"y1":522},
{"c":2.3,"x0":1445.5,"x1":1467.5,"y0":468,"y1":522},
{"n":"اخابر","p":"-0.11%","c":-0.11,"x0":1470.5,"x1":1560.5,"y0":468,"y1":522},
{"c":-0.6,"x0":1562,"x1":1566,"y0":468,"y1":522},
{"n":"گدنا","c":0.6,"x0":1359,"x1":1391,"y0":547,"y1":594.5},
{"c":-0.7,"x0":1392.5,"x1":1417.5,"y0":547,"y1":594.5},
{"c":0.5,"x0":1359,"x1":1417.5,"y0":596,"y1":605},
{"n":"ه...","c":-1.3,"x0":1420.5,"x1":1447,"y0":547,"y1":578},
{"c":-1.2,"x0":1448.5,"x1":1465.5,"y0":547,"y1":578},
{"c":-0.6,"x0":1467,"x1":1498,"y0":547,"y1":562.5},
{"c":-0.5,"x0":1467,"x1":1498,"y0":564,"y1":578},
{"n":"قا...","c":-0.6,"x0":1501,"x1":1530.5,"y0":547,"y1":578},
{"n":"ج...","c":0.5,"x0":1532,"x1":1559,"y0":547,"y1":578},
{"c":1.3,"x0":1560.5,"x1":1566,"y0":547,"y1":563},
{"c":-1.2,"x0":1560.5,"x1":1566,"y0":564.5,"y1":572},
{"c":0.4,"x0":1560.5,"x1":1566,"y0":573.5,"y1":578},
{"n":"ملتور","p":"-0.85%","c":-0.85,"x0":1359,"x1":1408.5,"y0":628.5,"y1":682},
{"c":-4.3,"x0":1410,"x1":1417.5,"y0":628.5,"y1":682},
{"n":"رمپنا","c":0.6,"x0":1420.5,"x1":1471,"y0":601.5,"y1":632},
{"c":0.5,"x0":1474,"x1":1489.5,"y0":601.5,"y1":632},
{"c":0.4,"x0":1491,"x1":1505,"y0":601.5,"y1":632},
{"c":0.6,"x0":1506.5,"x1":1526.5,"y0":601.5,"y1":615},
{"c":0.4,"x0":1506.5,"x1":1526.5,"y0":616.5,"y1":632},
{"c":0.5,"x0":1529.5,"x1":1552.5,"y0":601.5,"y1":632},
{"c":5.0,"x0":1554,"x1":1566,"y0":601.5,"y1":616},
{"c":-0.6,"x0":1554,"x1":1566,"y0":617.5,"y1":632},
{"n":"ك...","c":5.2,"x0":1420.5,"x1":1454,"y0":654,"y1":682},
{"c":0.5,"x0":1455.5,"x1":1471,"y0":654,"y1":667},
{"c":0.4,"x0":1455.5,"x1":1471,"y0":668.5,"y1":676},
{"c":-0.6,"x0":1455.5,"x1":1471,"y0":677.5,"y1":682},
{"c":1.4,"x0":1474,"x1":1515.5,"y0":648,"y1":661},
{"c":-1.3,"x0":1518.5,"x1":1544.5,"y0":648,"y1":661},
{"c":2.3,"x0":1547.5,"x1":1566,"y0":648,"y1":661},
{"c":5.0,"x0":1518.5,"x1":1533,"y0":678,"y1":682.5},
{"c":-0.6,"x0":1534,"x1":1544.5,"y0":678,"y1":682.5},
{"c":1.3,"x0":1547.5,"x1":1566,"y0":678,"y1":682.5}
]
},
"layer": [
{"data": {"name": "frame"},
 "mark": {"type": "rect", "fill": "#ffffff", "stroke": "#d6d6d6", "strokeWidth": 2},
 "encoding": {
  "x": {"field": "x0", "type": "quantitative", "scale": {"domain": [0, 1584], "range": [0, 1584], "nice": false, "zero": false}, "axis": null},
  "x2": {"field": "x1"},
  "y": {"field": "y0", "type": "quantitative", "scale": {"domain": [0, 698], "range": [0, 698], "nice": false, "zero": false}, "axis": null},
  "y2": {"field": "y1"}}},
{"data": {"name": "groups"},
 "mark": {"type": "rect", "fill": "#ffffff", "stroke": "#cfcfcf", "strokeWidth": 1},
 "encoding": {
  "x": {"field": "x0", "type": "quantitative", "axis": null}, "x2": {"field": "x1"},
  "y": {"field": "y0", "type": "quantitative", "axis": null}, "y2": {"field": "yb"}}},
{"data": {"name": "groups"},
 "mark": {"type": "rect", "fill": "#ffffff", "stroke": "#d9d9d9", "strokeWidth": 1},
 "encoding": {
  "x": {"field": "x0", "type": "quantitative", "axis": null}, "x2": {"field": "x1"},
  "y": {"field": "y0", "type": "quantitative", "axis": null}, "y2": {"field": "y1"}}},
{"data": {"name": "groups"},
 "mark": {"type": "text", "font": "DejaVu Sans Condensed, DejaVu Sans", "fontSize": 11, "align": "center", "baseline": "middle", "fill": "#111111",
   "dx": {"expr": "(datum.x1 - datum.x0) / 2"}, "dy": {"expr": "(datum.y1 - datum.y0) / 2 + 1"}, "limit": {"expr": "datum.x1 - datum.x0 - 4"}},
 "encoding": {
  "x": {"field": "x0", "type": "quantitative", "axis": null},
  "y": {"field": "y0", "type": "quantitative", "axis": null},
  "text": {"field": "t"}}},
{"data": {"name": "tiles"},
 "mark": {"type": "rect", "strokeWidth": 0},
 "encoding": {
  "x": {"field": "x0", "type": "quantitative", "axis": null}, "x2": {"field": "x1"},
  "y": {"field": "y0", "type": "quantitative", "axis": null}, "y2": {"field": "y1"},
  "color": {"field": "c", "type": "quantitative", "legend": null,
    "scale": {"type": "threshold", "domain": [-4, -3, -2, -1, 0, 1, 2, 3, 4],
      "range": ["#ff0015", "#d9000f", "#b0000c", "#7a0000", "#420000", "#004d00", "#1e7d00", "#23a305", "#2ed600", "#33ff00"]}}}},
{"data": {"name": "tiles"},
 "transform": [{"filter": "datum.n && !datum.p"}],
 "mark": {"type": "text", "font": "DejaVu Sans", "align": "center", "baseline": "alphabetic",
   "fontSize": {"expr": "min(13, (datum.x1 - datum.x0) / (length(datum.n) * 0.5 + 0.5), (datum.y1 - datum.y0) * 0.55)"},
   "dx": {"expr": "(datum.x1 - datum.x0) / 2"},
   "dy": {"expr": "(datum.y1 - datum.y0) / 2 + 0.3 * min(13, (datum.x1 - datum.x0) / (length(datum.n) * 0.5 + 0.5), (datum.y1 - datum.y0) * 0.55)"}},
 "encoding": {
  "x": {"field": "x0", "type": "quantitative", "axis": null},
  "y": {"field": "y0", "type": "quantitative", "axis": null},
  "text": {"field": "n"},
  "fill": {"condition": {"test": "datum.c >= 3.5", "value": "#000000"}, "value": "#ffffff"}}},
{"data": {"name": "tiles"},
 "transform": [{"filter": "datum.p"}],
 "mark": {"type": "text", "font": "DejaVu Sans", "align": "center", "baseline": "alphabetic",
   "fontSize": {"expr": "max(6, min((datum.x1 - datum.x0) / 3.6, sqrt((datum.x1 - datum.x0) * (datum.y1 - datum.y0)) / (((datum.x1 - datum.x0) * (datum.y1 - datum.y0)) > 11000 ? 8.5 : 10)))"},
   "dx": {"expr": "(datum.x1 - datum.x0) / 2"},
   "dy": {"expr": "(datum.y1 - datum.y0) / 2 - 0.12 * max(6, min((datum.x1 - datum.x0) / 3.6, sqrt((datum.x1 - datum.x0) * (datum.y1 - datum.y0)) / (((datum.x1 - datum.x0) * (datum.y1 - datum.y0)) > 11000 ? 8.5 : 10)))"}},
 "encoding": {
  "x": {"field": "x0", "type": "quantitative", "axis": null},
  "y": {"field": "y0", "type": "quantitative", "axis": null},
  "text": {"field": "n"},
  "fill": {"condition": {"test": "datum.c >= 3.5", "value": "#000000"}, "value": "#ffffff"}}},
{"data": {"name": "tiles"},
 "transform": [{"filter": "datum.p"}],
 "mark": {"type": "text", "font": "DejaVu Sans", "align": "center", "baseline": "alphabetic",
   "fontSize": {"expr": "max(6, min((datum.x1 - datum.x0) / 3.6, sqrt((datum.x1 - datum.x0) * (datum.y1 - datum.y0)) / (((datum.x1 - datum.x0) * (datum.y1 - datum.y0)) > 11000 ? 8.5 : 10)))"},
   "dx": {"expr": "(datum.x1 - datum.x0) / 2"},
   "dy": {"expr": "(datum.y1 - datum.y0) / 2 + 1.07 * max(6, min((datum.x1 - datum.x0) / 3.6, sqrt((datum.x1 - datum.x0) * (datum.y1 - datum.y0)) / (((datum.x1 - datum.x0) * (datum.y1 - datum.y0)) > 11000 ? 8.5 : 10)))"}},
 "encoding": {
  "x": {"field": "x0", "type": "quantitative", "axis": null},
  "y": {"field": "y0", "type": "quantitative", "axis": null},
  "text": {"field": "p"},
  "fill": {"condition": {"test": "datum.c >= 3.5", "value": "#000000"}, "value": "#ffffff"}}}
]
}
